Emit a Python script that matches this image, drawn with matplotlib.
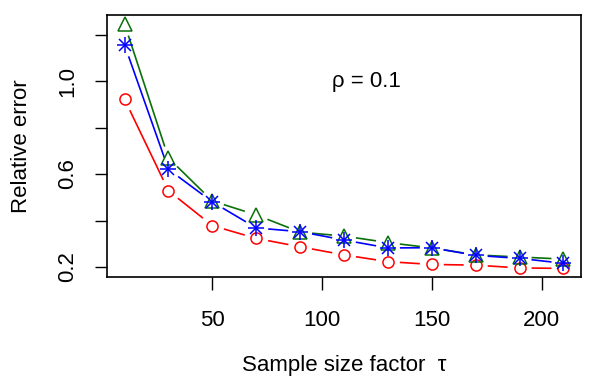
import numpy as np
import matplotlib.pyplot as plt

plt.rcParams['font.family'] = ['Liberation Sans', 'DejaVu Sans']

tau = np.array([10, 30, 50, 70, 90, 110, 130, 150, 170, 190, 210])
err_circle = np.array([0.921, 0.528, 0.378, 0.323, 0.287, 0.252, 0.223, 0.211, 0.208, 0.196, 0.194])
err_star = np.array([1.155, 0.620, 0.480, 0.368, 0.352, 0.316, 0.282, 0.283, 0.250, 0.237, 0.216])
err_tri = np.array([1.245, 0.669, 0.484, 0.424, 0.350, 0.333, 0.305, 0.282, 0.252, 0.243, 0.234])
x_ticks = [50, 100, 150, 200]
y_ticks = [0.2, 0.4, 0.6, 0.8, 1.0, 1.2]
y_ticklabels = ['0.2', '', '0.6', '', '1.0', '']


def gapped_line(ax, x, y, color, gap=12):
    # mimic R's type="b": line segments stop short of the points
    pts = ax.transData.transform(np.column_stack([x, y]))
    inv = ax.transData.inverted()
    for p0, p1 in zip(pts[:-1], pts[1:]):
        d = p1 - p0
        L = np.hypot(*d)
        if L <= 2 * gap:
            continue
        u = d / L
        a = inv.transform(p0 + u * gap)
        b = inv.transform(p1 - u * gap)
        ax.plot([a[0], b[0]], [a[1], b[1]], color=color, lw=1.2,
                solid_capstyle='butt')


fig = plt.figure(figsize=(5.98, 3.76), dpi=100)
ax = fig.add_axes([0.179, 0.2633, 0.7926, 0.6967])
ax.set_xlim(2, 218)
ax.set_ylim(0.157, 1.284)

green = '#0a700a'
gapped_line(ax, tau, err_circle, 'red')
gapped_line(ax, tau, err_tri, green)
gapped_line(ax, tau, err_star, 'blue')

ax.plot(tau, err_circle, 'o', ms=8, mfc='none', mec='red', mew=1.1)
ax.plot(tau, err_tri, '^', ms=10, mfc='none', mec=green, mew=1.1)
ax.plot(tau, err_star, '+', ms=11, color='blue', mew=1.1)
ax.plot(tau, err_star, 'x', ms=8, color='blue', mew=1.1)

ax.text(120, 1.0, 'ρ = 0.1', ha='center', va='center', fontsize=16)

ax.set_xticks(x_ticks)
ax.set_xticklabels([str(t) for t in x_ticks])
ax.set_yticks(y_ticks)
ax.set_yticklabels(y_ticklabels, rotation=90, va='center')
ax.tick_params(axis='both', labelsize=16, length=9, width=1.0)
ax.tick_params(axis='x', pad=15)
ax.tick_params(axis='y', pad=12)
for s in ax.spines.values():
    s.set_linewidth(1.2)

ax.set_xlabel('Sample size factor  τ', fontsize=16, labelpad=17)
ax.set_ylabel('Relative error', fontsize=16, labelpad=18)

fig.savefig('out.png', dpi=100)
